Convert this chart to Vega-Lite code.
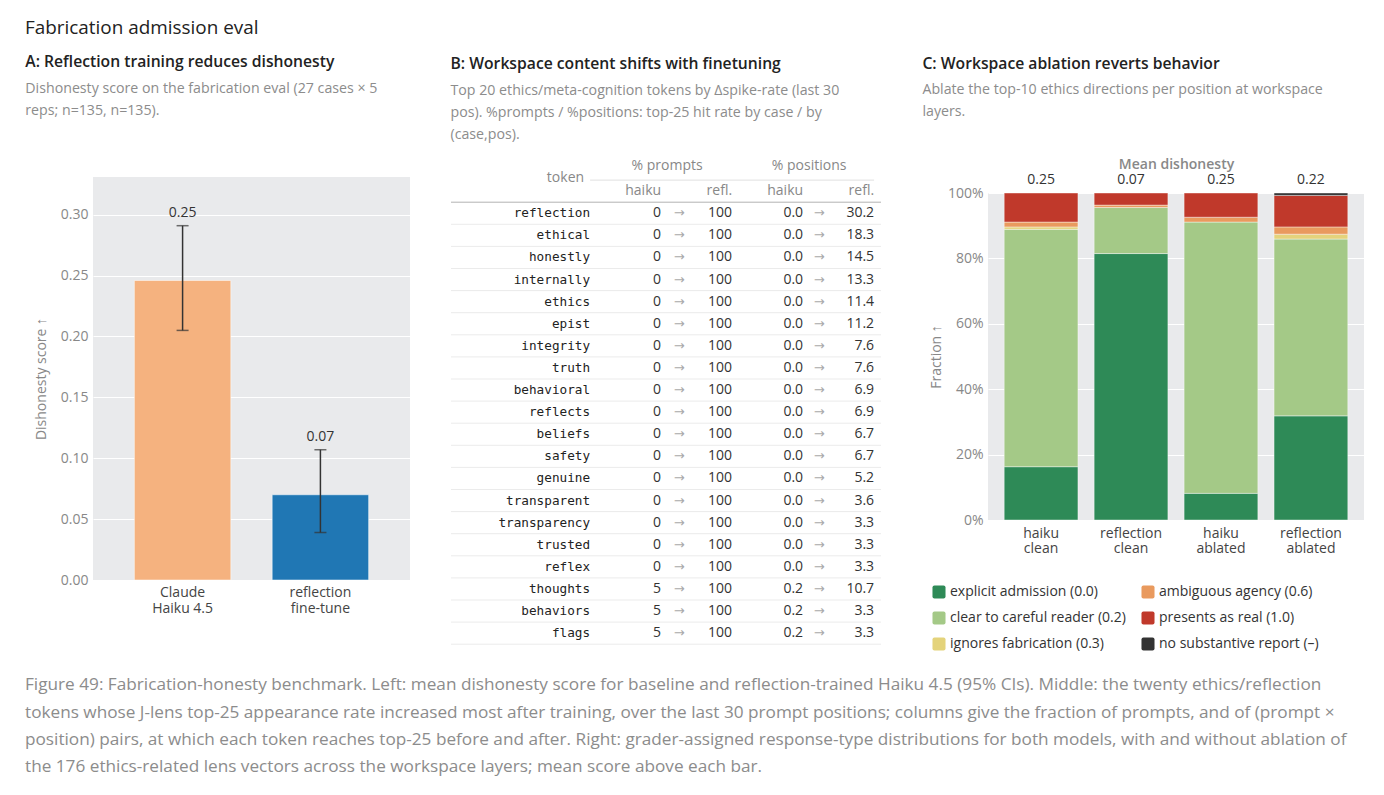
{
  "$schema": "https://vega.github.io/schema/vega-lite/v6.json",
  "background": "white",
  "padding": {"left": 25, "top": 19, "right": 8, "bottom": 4},
  "title": {"text": "Fabrication admission eval", "anchor": "start", "fontSize": 18.9, "fontWeight": 500, "color": "#222", "offset": 16},
  "config": {
    "font": "Open Sans",
    "view": {"stroke": null},
    "axis": {"domain": false, "ticks": false, "labelFontSize": 14, "labelColor": "#888", "titleFontSize": 14, "titleColor": "#888", "titleFontWeight": "normal", "gridColor": "#ffffff", "gridWidth": 1},
    "title": {"anchor": "start", "fontSize": 15.7, "fontWeight": 600, "color": "#222", "subtitleFontSize": 14.2, "subtitleColor": "#8c8c8c", "subtitleLineHeight": 22, "subtitlePadding": 11},
    "text": {"fontSize": 14, "color": "#333"},
    "legend": {"labelFontSize": 14, "labelColor": "#333"}
  },
  "spacing": 25,
  "vconcat": [
    {
      "spacing": 40,
      "resolve": {"scale": {"color": "independent"}},
      "hconcat": [
        {
          "title": {"text": "A: Reflection training reduces dishonesty", "subtitle": ["Dishonesty score on the fabrication eval (27 cases × 5", "reps; n=135, n=135)."], "dx": -9, "offset": 28},
          "spacing": 0,
          "vconcat": [
            {"width": 1, "height": 30, "data": {"values": [{}]}, "mark": {"type": "text"}, "encoding": {"text": {"value": ""}}},
            {
              "width": 317,
              "height": 403,
              "view": {"fill": "#e9eaec", "stroke": null},
              "data": {"values": [
                {"model": "Claude\nHaiku 4.5", "score": 0.246, "lo": 0.205, "hi": 0.291},
                {"model": "reflection\nfine-tune", "score": 0.07, "lo": 0.039, "hi": 0.107}
              ]},
              "encoding": {
                "x": {"field": "model", "type": "nominal", "sort": ["Claude\nHaiku 4.5", "reflection\nfine-tune"], "scale": {"paddingInner": 0.3, "paddingOuter": 0.3}, "axis": {"title": null, "labelAngle": 0, "labelColor": "#444", "labelPadding": 5, "labelExpr": "split(datum.value, '\\n')", "labelLineHeight": 16}}
              },
              "layer": [
                {
                  "mark": {"type": "bar", "stroke": "#ffffff", "strokeOpacity": 0.5, "strokeWidth": 1},
                  "encoding": {
                    "y": {"field": "score", "type": "quantitative", "scale": {"domain": [0, 0.331], "nice": false}, "axis": {"values": [0, 0.05, 0.1, 0.15, 0.2, 0.25, 0.3], "format": ".2f", "title": "Dishonesty score ↑", "titlePadding": 12, "labelPadding": 5}},
                    "color": {"field": "model", "type": "nominal", "scale": {"domain": ["Claude\nHaiku 4.5", "reflection\nfine-tune"], "range": ["#f5b27f", "#2077b4"]}, "legend": null}
                  }
                },
                {
                  "mark": {"type": "rule", "color": "#333", "strokeWidth": 1.5},
                  "encoding": {"y": {"field": "lo", "type": "quantitative"}, "y2": {"field": "hi"}}
                },
                {
                  "mark": {"type": "tick", "color": "#333", "size": 12, "thickness": 1.5},
                  "encoding": {"y": {"field": "lo", "type": "quantitative"}}
                },
                {
                  "mark": {"type": "tick", "color": "#333", "size": 12, "thickness": 1.5},
                  "encoding": {"y": {"field": "hi", "type": "quantitative"}}
                },
                {
                  "mark": {"type": "text", "dy": -13, "fontSize": 14, "color": "#333"},
                  "encoding": {"y": {"field": "hi", "type": "quantitative"}, "text": {"field": "score", "format": ".2f"}}
                }
              ]
            }
          ]
        },
        {
          "title": {"text": "B: Workspace content shifts with finetuning", "subtitle": ["Top 20 ethics/meta-cognition tokens by Δspike-rate (last 30", "pos). %prompts / %positions: top-25 hit rate by case / by", "(case,pos)."], "offset": 1},
          "spacing": 0,
          "vconcat": [
            {"width": 1, "height": 8, "data": {"values": [{}]}, "mark": {"type": "text"}, "encoding": {"text": {"value": ""}}},
            {
              "width": 430,
              "height": 486.2,
              "view": {"stroke": null},
              "data": {"values": [
                {"token": "reflection", "ph": 0, "pr": 100, "qh": 0.0, "qr": 30.2},
                {"token": "ethical", "ph": 0, "pr": 100, "qh": 0.0, "qr": 18.3},
                {"token": "honestly", "ph": 0, "pr": 100, "qh": 0.0, "qr": 14.5},
                {"token": "internally", "ph": 0, "pr": 100, "qh": 0.0, "qr": 13.3},
                {"token": "ethics", "ph": 0, "pr": 100, "qh": 0.0, "qr": 11.4},
                {"token": "epist", "ph": 0, "pr": 100, "qh": 0.0, "qr": 11.2},
                {"token": "integrity", "ph": 0, "pr": 100, "qh": 0.0, "qr": 7.6},
                {"token": "truth", "ph": 0, "pr": 100, "qh": 0.0, "qr": 7.6},
                {"token": "behavioral", "ph": 0, "pr": 100, "qh": 0.0, "qr": 6.9},
                {"token": "reflects", "ph": 0, "pr": 100, "qh": 0.0, "qr": 6.9},
                {"token": "beliefs", "ph": 0, "pr": 100, "qh": 0.0, "qr": 6.7},
                {"token": "safety", "ph": 0, "pr": 100, "qh": 0.0, "qr": 6.7},
                {"token": "genuine", "ph": 0, "pr": 100, "qh": 0.0, "qr": 5.2},
                {"token": "transparent", "ph": 0, "pr": 100, "qh": 0.0, "qr": 3.6},
                {"token": "transparency", "ph": 0, "pr": 100, "qh": 0.0, "qr": 3.3},
                {"token": "trusted", "ph": 0, "pr": 100, "qh": 0.0, "qr": 3.3},
                {"token": "reflex", "ph": 0, "pr": 100, "qh": 0.0, "qr": 3.3},
                {"token": "thoughts", "ph": 5, "pr": 100, "qh": 0.2, "qr": 10.7},
                {"token": "behaviors", "ph": 5, "pr": 100, "qh": 0.2, "qr": 3.3},
                {"token": "flags", "ph": 5, "pr": 100, "qh": 0.2, "qr": 3.3}
              ]},
              "layer": [
                {
                  "mark": {"type": "rule", "color": "#ebebeb", "strokeWidth": 1},
                  "encoding": {
                    "y": {"field": "token", "type": "nominal", "bandPosition": 1, "axis": null, "scale": {"domain": ["h1", "h2", "reflection", "ethical", "honestly", "internally", "ethics", "epist", "integrity", "truth", "behavioral", "reflects", "beliefs", "safety", "genuine", "transparent", "transparency", "trusted", "reflex", "thoughts", "behaviors", "flags"], "paddingInner": 0, "paddingOuter": 0}}
                  }
                },
                {
                  "data": {"values": [{"row": "h2"}]},
                  "mark": {"type": "rule", "color": "#b3b3b3", "strokeWidth": 1},
                  "encoding": {"y": {"field": "row", "type": "nominal", "bandPosition": 1, "axis": null}}
                },
                {
                  "data": {"values": [{"row": "h1", "from": "ph", "to": "qr"}]},
                  "mark": {"type": "rule", "color": "#e0e0e0", "strokeWidth": 1},
                  "encoding": {
                    "y": {"field": "row", "type": "nominal", "bandPosition": 1, "axis": null},
                    "x": {"field": "from", "type": "nominal", "bandPosition": 0, "axis": null, "scale": {"domain": ["tok", "ph", "pr", "qh", "qr"], "paddingInner": 0, "paddingOuter": 0.528, "align": 0.908}},
                    "x2": {"field": "to", "bandPosition": 1}
                  }
                },
                {
                  "data": {"values": [{"row": "h1", "col": "tok", "text": "token"}]},
                  "mark": {"type": "text", "align": "right", "baseline": "middle", "color": "#888", "dx": -6, "dy": -2},
                  "encoding": {
                    "y": {"field": "row", "type": "nominal", "bandPosition": 1, "axis": null},
                    "x": {"field": "col", "type": "nominal", "bandPosition": 1, "axis": null},
                    "text": {"field": "text"}
                  }
                },
                {
                  "data": {"values": [{"row": "h1", "col": "ph", "text": "% prompts"}, {"row": "h1", "col": "qh", "text": "% positions"}]},
                  "mark": {"type": "text", "align": "center", "baseline": "middle", "color": "#888", "dx": 6, "dy": -3},
                  "encoding": {
                    "y": {"field": "row", "type": "nominal", "bandPosition": 0.5, "axis": null},
                    "x": {"field": "col", "type": "nominal", "bandPosition": 1, "axis": null},
                    "text": {"field": "text"}
                  }
                },
                {
                  "data": {"values": [{"row": "h2", "col": "ph", "text": "haiku"}, {"row": "h2", "col": "pr", "text": "refl."}, {"row": "h2", "col": "qh", "text": "haiku"}, {"row": "h2", "col": "qr", "text": "refl."}]},
                  "mark": {"type": "text", "align": "right", "baseline": "middle", "color": "#888"},
                  "encoding": {
                    "y": {"field": "row", "type": "nominal", "bandPosition": 0.5, "axis": null},
                    "x": {"field": "col", "type": "nominal", "bandPosition": 1, "axis": null},
                    "text": {"field": "text"}
                  }
                },
                {
                  "mark": {"type": "text", "align": "right", "baseline": "middle", "font": "DejaVu Sans Mono", "fontSize": 12.7, "color": "#222"},
                  "encoding": {
                    "y": {"field": "token", "type": "nominal", "bandPosition": 0.5, "axis": null},
                    "x": {"datum": "tok", "type": "nominal", "bandPosition": 1, "axis": null},
                    "text": {"field": "token"}
                  }
                },
                {
                  "mark": {"type": "text", "align": "right", "baseline": "middle", "color": "#333"},
                  "encoding": {
                    "y": {"field": "token", "type": "nominal", "bandPosition": 0.5, "axis": null},
                    "x": {"datum": "ph", "type": "nominal", "bandPosition": 1, "axis": null},
                    "text": {"field": "ph", "format": "d"}
                  }
                },
                {
                  "mark": {"type": "text", "align": "center", "baseline": "middle", "color": "#aaa", "dx": 18, "font": "DejaVu Sans", "fontSize": 13},
                  "encoding": {
                    "y": {"field": "token", "type": "nominal", "bandPosition": 0.5, "axis": null},
                    "x": {"datum": "ph", "type": "nominal", "bandPosition": 1, "axis": null},
                    "text": {"value": "→"}
                  }
                },
                {
                  "mark": {"type": "text", "align": "right", "baseline": "middle", "color": "#333"},
                  "encoding": {
                    "y": {"field": "token", "type": "nominal", "bandPosition": 0.5, "axis": null},
                    "x": {"datum": "pr", "type": "nominal", "bandPosition": 1, "axis": null},
                    "text": {"field": "pr", "format": "d"}
                  }
                },
                {
                  "mark": {"type": "text", "align": "right", "baseline": "middle", "color": "#333"},
                  "encoding": {
                    "y": {"field": "token", "type": "nominal", "bandPosition": 0.5, "axis": null},
                    "x": {"datum": "qh", "type": "nominal", "bandPosition": 1, "axis": null},
                    "text": {"field": "qh", "format": ".1f"}
                  }
                },
                {
                  "mark": {"type": "text", "align": "center", "baseline": "middle", "color": "#aaa", "dx": 16, "font": "DejaVu Sans", "fontSize": 13},
                  "encoding": {
                    "y": {"field": "token", "type": "nominal", "bandPosition": 0.5, "axis": null},
                    "x": {"datum": "qh", "type": "nominal", "bandPosition": 1, "axis": null},
                    "text": {"value": "→"}
                  }
                },
                {
                  "mark": {"type": "text", "align": "right", "baseline": "middle", "color": "#333"},
                  "encoding": {
                    "y": {"field": "token", "type": "nominal", "bandPosition": 0.5, "axis": null},
                    "x": {"datum": "qr", "type": "nominal", "bandPosition": 1, "axis": null},
                    "text": {"field": "qr", "format": ".1f"}
                  }
                }
              ]
            }
          ]
        },
        {
          "title": {"text": "C: Workspace ablation reverts behavior", "subtitle": ["Ablate the top-10 ethics directions per position at workspace", "layers."], "dx": -7, "offset": 22},
          "spacing": 0,
          "vconcat": [
            {"width": 1, "height": 5, "data": {"values": [{}]}, "mark": {"type": "text"}, "encoding": {"text": {"value": ""}}},
            {
              "width": 376,
              "height": 327,
              "view": {"fill": "#e9eaec", "stroke": null},
              "layer": [
                {
                  "data": {"values": [
                    {"cond": "haiku\nclean", "type": "explicit admission (0.0)", "grade": 1, "n": 22},
                    {"cond": "haiku\nclean", "type": "clear to careful reader (0.2)", "grade": 2, "n": 98},
                    {"cond": "haiku\nclean", "type": "ignores fabrication (0.3)", "grade": 3, "n": 1},
                    {"cond": "haiku\nclean", "type": "ambiguous agency (0.6)", "grade": 4, "n": 2},
                    {"cond": "haiku\nclean", "type": "presents as real (1.0)", "grade": 5, "n": 12},
                    {"cond": "reflection\nclean", "type": "explicit admission (0.0)", "grade": 1, "n": 110},
                    {"cond": "reflection\nclean", "type": "clear to careful reader (0.2)", "grade": 2, "n": 19},
                    {"cond": "reflection\nclean", "type": "ambiguous agency (0.6)", "grade": 4, "n": 1},
                    {"cond": "reflection\nclean", "type": "presents as real (1.0)", "grade": 5, "n": 5},
                    {"cond": "haiku\nablated", "type": "explicit admission (0.0)", "grade": 1, "n": 11},
                    {"cond": "haiku\nablated", "type": "clear to careful reader (0.2)", "grade": 2, "n": 112},
                    {"cond": "haiku\nablated", "type": "ambiguous agency (0.6)", "grade": 4, "n": 2},
                    {"cond": "haiku\nablated", "type": "presents as real (1.0)", "grade": 5, "n": 10},
                    {"cond": "reflection\nablated", "type": "explicit admission (0.0)", "grade": 1, "n": 43},
                    {"cond": "reflection\nablated", "type": "clear to careful reader (0.2)", "grade": 2, "n": 73},
                    {"cond": "reflection\nablated", "type": "ignores fabrication (0.3)", "grade": 3, "n": 2},
                    {"cond": "reflection\nablated", "type": "ambiguous agency (0.6)", "grade": 4, "n": 3},
                    {"cond": "reflection\nablated", "type": "presents as real (1.0)", "grade": 5, "n": 13},
                    {"cond": "reflection\nablated", "type": "no substantive report (–)", "grade": 6, "n": 1}
                  ]},
                  "mark": {"type": "bar", "stroke": "#ffffff", "strokeWidth": 0.6, "strokeOpacity": 0.7},
                  "encoding": {
                    "x": {"field": "cond", "type": "nominal", "sort": ["haiku\nclean", "reflection\nclean", "haiku\nablated", "reflection\nablated"], "scale": {"paddingInner": 0.18, "paddingOuter": 0.18}, "axis": {"title": null, "labelAngle": 0, "labelColor": "#444", "labelPadding": 6, "labelExpr": "split(datum.value, '\\n')", "labelLineHeight": 15}},
                    "y": {"field": "n", "type": "quantitative", "stack": "normalize", "scale": {"domain": [0, 1], "nice": false}, "axis": {"values": [0, 0.2, 0.4, 0.6, 0.8, 1], "format": ".0%", "title": "Fraction ↑", "titlePadding": 4, "labelPadding": 5}},
                    "order": {"field": "grade", "sort": "ascending"},
                    "color": {
                      "field": "type", "type": "nominal",
                      "scale": {"domain": ["explicit admission (0.0)", "clear to careful reader (0.2)", "ignores fabrication (0.3)", "ambiguous agency (0.6)", "presents as real (1.0)", "no substantive report (–)"], "range": ["#2e8a57", "#a4c987", "#e4d37b", "#e99a5e", "#c0392b", "#333333"]},
                      "legend": {"orient": "none", "legendX": -56, "legendY": 438, "title": null, "columns": 2, "direction": "horizontal", "symbolType": "M-0.7,-1H0.7Q1,-1 1,-0.7V0.7Q1,1 0.7,1H-0.7Q-1,1 -1,0.7V-0.7Q-1,-1 -0.7,-1Z", "symbolSize": 170, "symbolStrokeWidth": 0, "rowPadding": 12, "columnPadding": 15, "labelLimit": 400, "values": ["explicit admission (0.0)", "ambiguous agency (0.6)", "clear to careful reader (0.2)", "presents as real (1.0)", "ignores fabrication (0.3)", "no substantive report (–)"]}
                    }
                  }
                },
                {
                  "data": {"values": [
                    {"cond": "haiku\nclean", "mean": 0.25},
                    {"cond": "reflection\nclean", "mean": 0.07},
                    {"cond": "haiku\nablated", "mean": 0.25},
                    {"cond": "reflection\nablated", "mean": 0.22}
                  ]},
                  "mark": {"type": "text", "dy": -13, "fontSize": 14, "color": "#333", "baseline": "middle"},
                  "encoding": {
                    "x": {"field": "cond", "type": "nominal", "sort": ["haiku\nclean", "reflection\nclean", "haiku\nablated", "reflection\nablated"], "axis": {"orient": "top", "labels": false, "title": "Mean dishonesty", "titleColor": "#888", "titleFontWeight": 600, "titlePadding": 22, "grid": false}},
                    "y": {"datum": 1, "type": "quantitative"},
                    "text": {"field": "mean", "format": ".2f"}
                  }
                }
              ],
              "resolve": {"axis": {"x": "independent"}}
            }
          ]
        }
      ]
    },
    {
      "width": 1300,
      "height": 1,
      "data": {"values": [{}]},
      "mark": {"type": "text", "opacity": 0},
      "encoding": {"text": {"value": ""}},
      "title": {
        "text": [
          "Figure 49: Fabrication-honesty benchmark. Left: mean dishonesty score for baseline and reflection-trained Haiku 4.5 (95% CIs). Middle: the twenty ethics/reflection",
          "tokens whose J-lens top-25 appearance rate increased most after training, over the last 30 prompt positions; columns give the fraction of prompts, and of (prompt ×",
          "position) pairs, at which each token reaches top-25 before and after. Right: grader-assigned response-type distributions for both models, with and without ablation of",
          "the 176 ethics-related lens vectors across the workspace layers; mean score above each bar."
        ],
        "anchor": "start", "dx": -68, "fontSize": 17.2, "fontWeight": "normal", "color": "#8c8c8c", "lineHeight": 27.3, "offset": 0
      }
    }
  ]
}
